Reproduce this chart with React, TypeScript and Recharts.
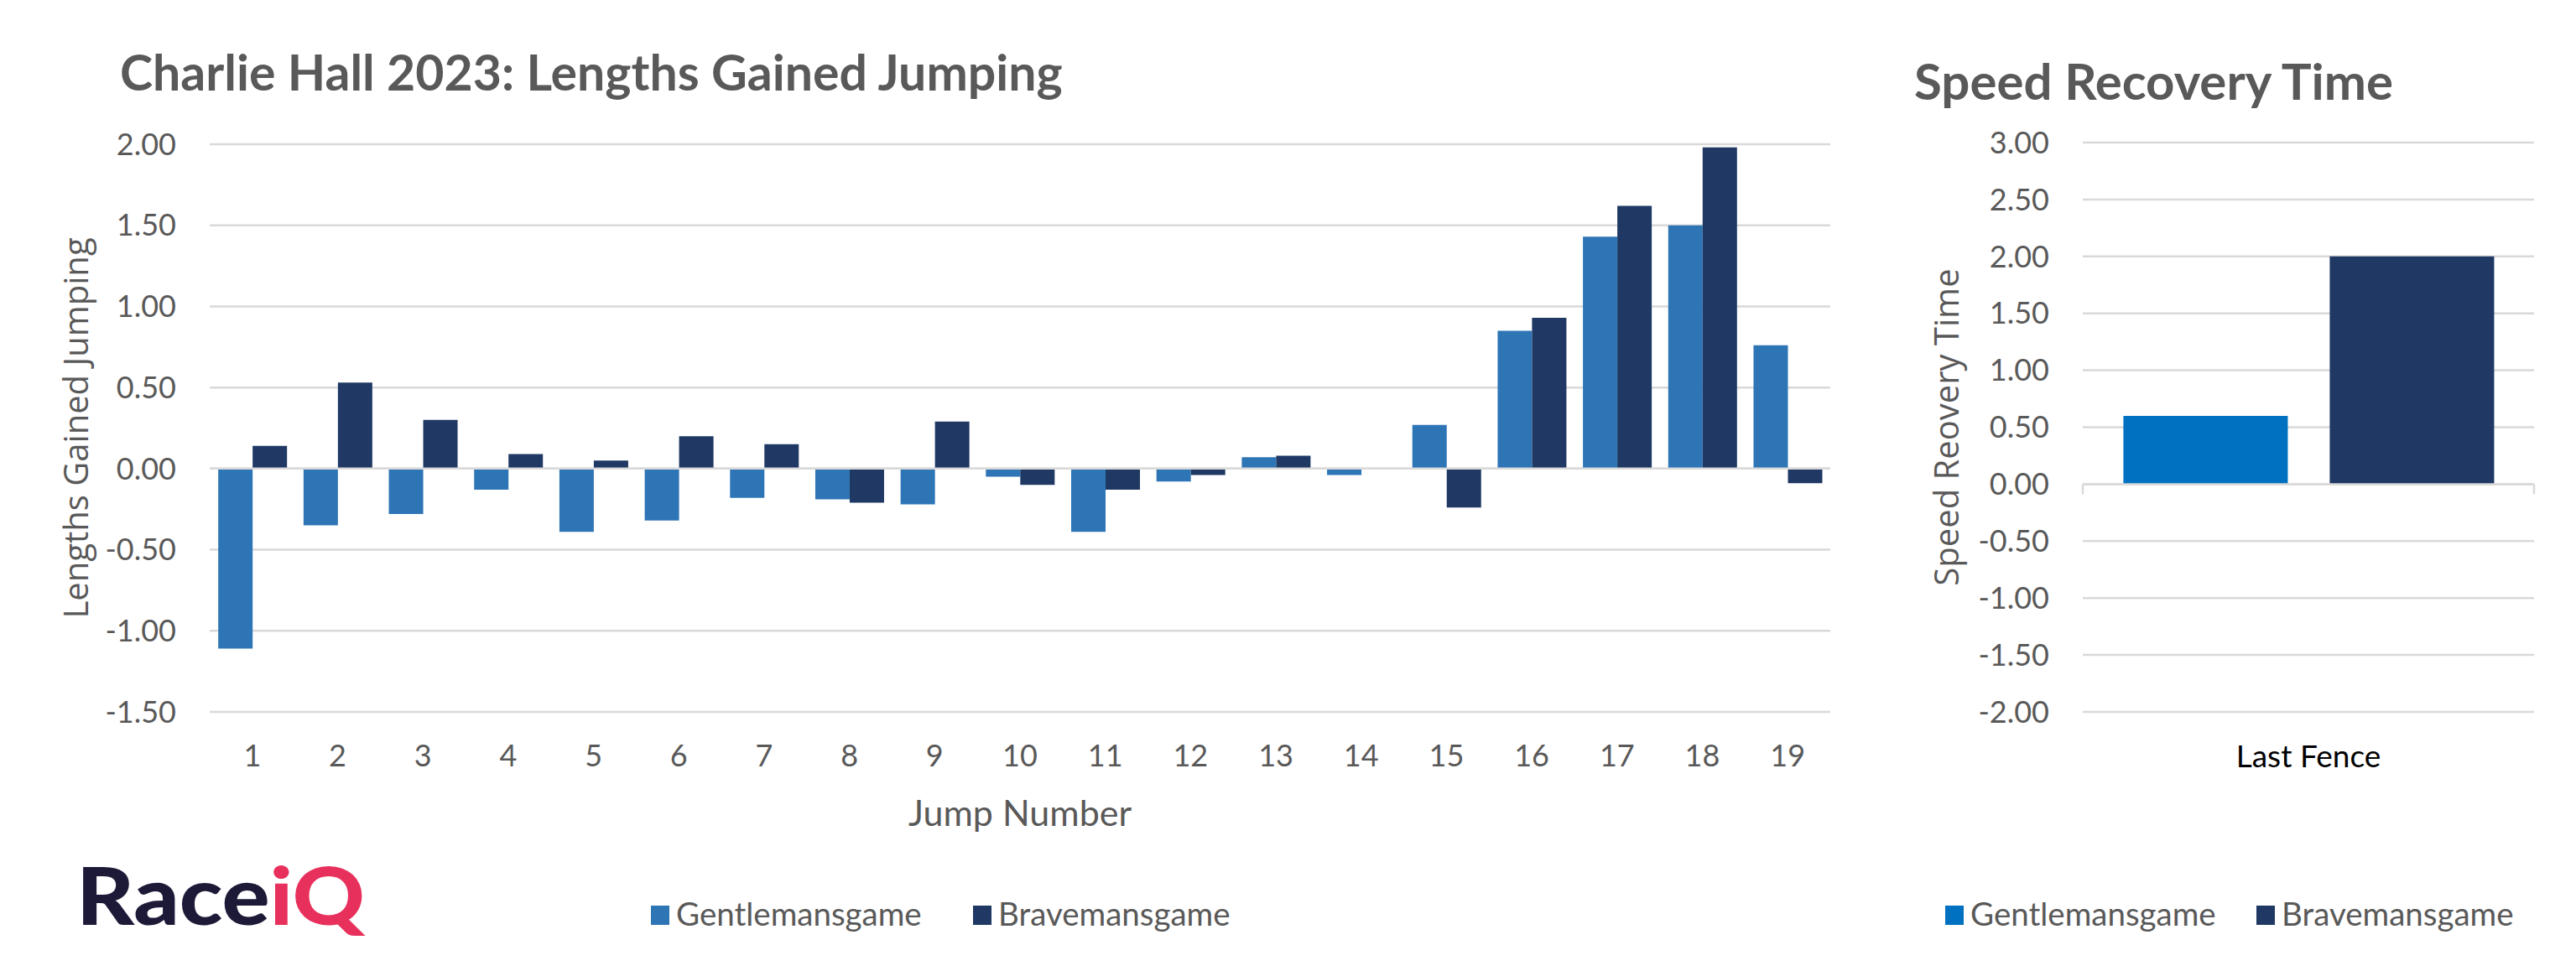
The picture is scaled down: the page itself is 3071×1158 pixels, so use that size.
import React from 'react';
import { BarChart, Bar, XAxis, YAxis, CartesianGrid, ReferenceLine, Label } from 'recharts';

const jumpNumbers = ['1', '2', '3', '4', '5', '6', '7', '8', '9', '10', '11', '12', '13', '14', '15', '16', '17', '18', '19'];
const gentlemansgameJumping = [-1.11, -0.35, -0.28, -0.13, -0.39, -0.32, -0.18, -0.19, -0.22, -0.05, -0.39, -0.08, 0.07, -0.04, 0.27, 0.85, 1.43, 1.5, 0.76];
const bravemansgameJumping = [0.14, 0.53, 0.3, 0.09, 0.05, 0.2, 0.15, -0.21, 0.29, -0.1, -0.13, -0.04, 0.08, 0, -0.24, 0.93, 1.62, 1.98, -0.09];
const jumpingTicks = [-1.5, -1, -0.5, 0, 0.5, 1, 1.5, 2];

const recoveryCategories = ['Last Fence'];
const gentlemansgameRecovery = [0.6];
const bravemansgameRecovery = [2.0];
const recoveryTicks = [-2, -1.5, -1, -0.5, 0, 0.5, 1, 1.5, 2, 2.5, 3];

const seriesNames = ['Gentlemansgame', 'Bravemansgame'];

const jumpingData = jumpNumbers.map((j, i) => ({
  jump: j,
  gentle: gentlemansgameJumping[i],
  brave: bravemansgameJumping[i],
}));
const recoveryData = recoveryCategories.map((c, i) => ({
  cat: c,
  gentle: gentlemansgameRecovery[i],
  brave: bravemansgameRecovery[i],
}));

const TEXT = '#595959';
const GRID = '#d9d9d9';
const CAL = 'Lato, "Noto Sans", sans-serif';
const SEGOE = '"Open Sans", "Noto Sans", sans-serif';

const fmt = (v: number) => v.toFixed(2);

const YTitle = (text: string, dx: number) => (props: any) => {
  const vb = props.viewBox || {};
  const cx = vb.x + dx;
  const cy = vb.y + vb.height / 2;
  return (
    <text x={cx} y={cy} transform={`rotate(-90 ${cx} ${cy})`} textAnchor="middle" dominantBaseline="central"
      fill={TEXT} fontFamily={SEGOE} fontSize={40}>
      {text}
    </text>
  );
};

const XTitle = (props: any) => {
  const vb = props.viewBox || {};
  return (
    <text x={vb.x + vb.width / 2} y={vb.y + 136} textAnchor="middle" fill={TEXT} fontFamily={CAL} fontSize={43}>
      Jump Number
    </text>
  );
};

const ZeroAxis = (props: any) => {
  const { x1, y1, x2, y2 } = props;
  return (
    <g>
      <line x1={x1} y1={y1} x2={x2} y2={y2} stroke={GRID} strokeWidth={2.5} />
      <line x1={x1} y1={y1} x2={x1} y2={y1 + 12} stroke={GRID} strokeWidth={2.5} />
      <line x1={x2} y1={y1} x2={x2} y2={y1 + 12} stroke={GRID} strokeWidth={2.5} />
    </g>
  );
};

const LegendItem = ({ x, color, label }: { x: number; color: string; label: string }) => (
  <g>
    <rect x={x} y={1080} width={22} height={23} fill={color} />
    <text x={x + 30} y={1104} fill={TEXT} fontFamily={CAL} fontSize={38.5}>{label}</text>
  </g>
);

export default function App() {
  return (
    <div style={{ position: 'absolute', left: 0, top: 0, width: 3071, height: 1158, background: '#fff', overflow: 'hidden' }}>
      <div style={{ position: 'absolute', left: 0, top: 0 }}>
        <BarChart width={2250} height={1158} data={jumpingData} margin={{ top: 172, right: 68, bottom: 0, left: 0 }}
          barCategoryGap="10%" barGap={0}>
          <CartesianGrid vertical={false} stroke={GRID} strokeWidth={2.5} />
          <XAxis dataKey="jump" height={309} axisLine={false} tickLine={false} tickSize={0} tickMargin={39}
            tick={{ fill: TEXT, fontFamily: CAL, fontSize: 36 }} interval={0}>
            <Label content={XTitle} />
          </XAxis>
          <YAxis width={250} domain={[-1.5, 2]} ticks={jumpingTicks} axisLine={false} tickLine={false} tickSize={0}
            tickMargin={40} tickFormatter={fmt} tick={{ fill: TEXT, fontFamily: CAL, fontSize: 36 }} interval={0}>
            <Label content={YTitle('Lengths Gained Jumping', 89)} />
          </YAxis>
          <Bar dataKey="gentle" name={seriesNames[0]} fill="#2e75b6" isAnimationActive={false} />
          <Bar dataKey="brave" name={seriesNames[1]} fill="#1f3864" isAnimationActive={false} />
          <ReferenceLine y={0} stroke={GRID} strokeWidth={2.5} />
        </BarChart>
      </div>
      <div style={{ position: 'absolute', left: 2200, top: 0 }}>
        <BarChart width={871} height={1158} data={recoveryData} margin={{ top: 170, right: 50, bottom: 0, left: 0 }}
          barCategoryGap="9%" barGap={50}>
          <CartesianGrid vertical={false} stroke={GRID} strokeWidth={2.5} />
          <XAxis dataKey="cat" height={309} axisLine={false} tickLine={false} tickSize={0} tickMargin={40}
            tick={{ fill: '#000', fontFamily: CAL, fontSize: 37 }} />
          <YAxis width={283} domain={[-2, 3]} ticks={recoveryTicks} axisLine={false} tickLine={false} tickSize={0}
            tickMargin={40} tickFormatter={fmt} tick={{ fill: TEXT, fontFamily: CAL, fontSize: 36 }} interval={0}>
            <Label content={YTitle('Speed Reovery Time', 119)} />
          </YAxis>
          <Bar dataKey="gentle" name={seriesNames[0]} fill="#0070c0" isAnimationActive={false} />
          <Bar dataKey="brave" name={seriesNames[1]} fill="#1f3864" isAnimationActive={false} />
          <ReferenceLine y={0} shape={ZeroAxis} />
        </BarChart>
      </div>
      <svg width={3071} height={1158} style={{ position: 'absolute', left: 0, top: 0, pointerEvents: 'none' }}>
        <text x={143} y={108} fill={TEXT} fontFamily={CAL} fontWeight={700} fontSize={59}>
          Charlie Hall 2023: Lengths Gained Jumping
        </text>
        <text x={2282} y={119} fill={TEXT} fontFamily={CAL} fontWeight={700} fontSize={60}>
          Speed Recovery Time
        </text>
        <text x={91} y={1103} fontFamily={CAL} fontWeight={900} fontSize={96} textLength={344} lengthAdjust="spacingAndGlyphs">
          <tspan fill="#1d1a38">Race</tspan>
          <tspan fill="#e8305c">iQ</tspan>
        </text>
        <LegendItem x={776} color="#2e75b6" label={seriesNames[0]} />
        <LegendItem x={1160} color="#1f3864" label={seriesNames[1]} />
        <LegendItem x={2319} color="#0070c0" label={seriesNames[0]} />
        <LegendItem x={2690} color="#1f3864" label={seriesNames[1]} />
      </svg>
    </div>
  );
}
